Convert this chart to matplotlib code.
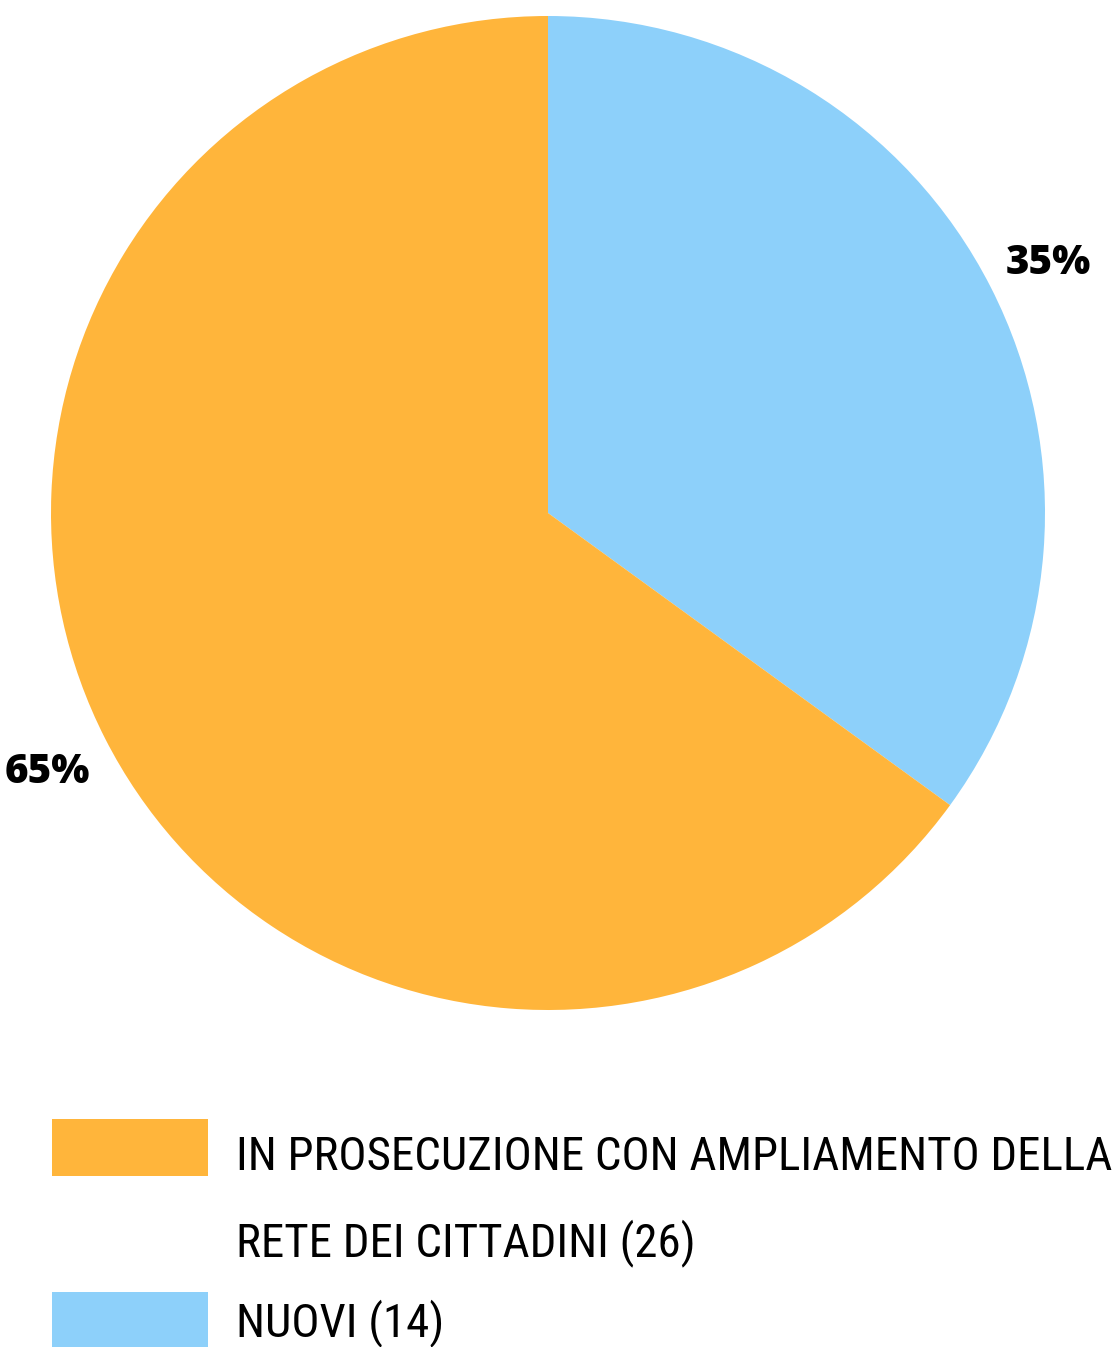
import matplotlib
matplotlib.use("Agg")
import matplotlib.pyplot as plt
from matplotlib import font_manager
from matplotlib.patches import Rectangle

# data
categories = ["NUOVI", "IN PROSECUZIONE CON AMPLIAMENTO DELLA RETE DEI CITTADINI"]
counts = [14, 26]
colors = ["#8DD0FA", "#FFB53B"]
legend_lines = [["IN PROSECUZIONE CON AMPLIAMENTO DELLA", "RETE DEI CITTADINI (26)"],
                ["NUOVI (14)"]]

W, H = 1118, 1347
names = {f.name for f in font_manager.fontManager.ttflist}
narrow = "DejaVu Sans"
for cand in ["Liberation Sans Narrow", "DejaVu Sans Condensed", "Roboto Condensed", "Open Sans Condensed"]:
    if cand in names:
        narrow = cand
        break
pct_font = "Open Sans" if "Open Sans" in names else "DejaVu Sans"

fig = plt.figure(figsize=(W / 100, H / 100), dpi=100)
ax = fig.add_axes([0, 0, 1, 1])

wedges, texts, autotexts = ax.pie(
    counts, colors=colors, startangle=90, counterclock=False,
    center=(548, H - 513), radius=497, autopct="%1.0f%%", pctdistance=1.13,
    wedgeprops=dict(linewidth=0), frame=True)
for t in autotexts:
    t.set_fontfamily(pct_font)
    t.set_fontweight(800)
    t.set_fontstyle("normal")
    t.set_fontsize(29)
    t.set_color("black")
    t.set_va("center_baseline")
ax.set_xlim(0, W)
ax.set_ylim(0, H)
ax.set_aspect("equal")
ax.axis("off")

# legend drawn by hand so the swatch lines up with the first text line
swatch_y = [1147, 1320]
line_y = [[1170, 1256], [1336]]
order = [1, 0]
txts = []
for k, idx in enumerate(order):
    ax.add_patch(Rectangle((52, H - swatch_y[k] - 28.5), 156, 57,
                           facecolor=colors[idx], linewidth=0))
    for line, y in zip(legend_lines[k], line_y[k]):
        txts.append(ax.text(236, H - y, line, fontfamily=narrow, fontsize=30,
                            va="baseline", ha="left", color="black"))

# shrink/grow the font so the longest line spans like the original
fig.canvas.draw()
r = fig.canvas.get_renderer()
w0 = txts[0].get_window_extent(r).width
fs = 30 * 876 / w0
for t in txts:
    t.set_fontsize(fs)

fig.savefig("out.png", dpi=100, facecolor="white")
